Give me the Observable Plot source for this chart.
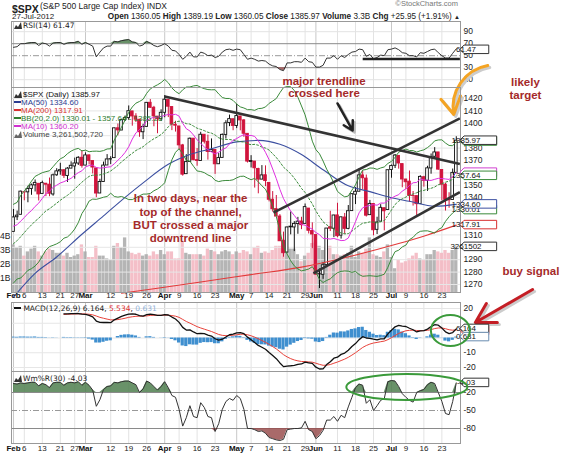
<!DOCTYPE html>
<html>
<head>
<meta charset="utf-8">
<script src="https://cdn.jsdelivr.net/npm/d3@7"></script>
<script src="https://cdn.jsdelivr.net/npm/@observablehq/plot@0.6"></script>
<style>
  html,body{margin:0;padding:0;background:#fff;}
  #chart{position:relative;width:570px;height:459px;overflow:hidden;background:#fff;font-family:"Liberation Sans",Arial,sans-serif;color:#222;}
  .t{position:absolute;white-space:nowrap;line-height:1;}
</style>
</head>
<body>
<div id="chart"></div>
<script>
// ---------------- DATA ----------------
const dates = [
 "02-01","02-02","02-03","02-06","02-07","02-08","02-09","02-10","02-13","02-14","02-15","02-16","02-17","02-21","02-22","02-23","02-24","02-27","02-28","02-29",
 "03-01","03-02","03-05","03-06","03-07","03-08","03-09","03-12","03-13","03-14","03-15","03-16","03-19","03-20","03-21","03-22","03-23","03-26","03-27","03-28","03-29","03-30",
 "04-02","04-03","04-04","04-05","04-09","04-10","04-11","04-12","04-13","04-16","04-17","04-18","04-19","04-20","04-23","04-24","04-25","04-26","04-27","04-30",
 "05-01","05-02","05-03","05-04","05-07","05-08","05-09","05-10","05-11","05-14","05-15","05-16","05-17","05-18","05-21","05-22","05-23","05-24","05-25","05-29","05-30","05-31",
 "06-01","06-04","06-05","06-06","06-07","06-08","06-11","06-12","06-13","06-14","06-15","06-18","06-19","06-20","06-21","06-22","06-25","06-26","06-27","06-28","06-29",
 "07-02","07-03","07-05","07-06","07-09","07-10","07-11","07-12","07-13","07-16","07-17","07-18","07-19","07-20","07-23","07-24","07-25","07-26","07-27"];
const open = [
 1312.45,1324.24,1326.21,1344.32,1344.33,1347.04,1349.97,1351.21,1343.06,1351.30,1350.52,1342.61,1358.06,1361.22,1362.11,1357.53,1363.46,1365.20,1367.56,1372.20,
 1365.90,1374.09,1369.59,1363.63,1343.39,1352.65,1365.97,1370.78,1371.92,1395.95,1394.17,1402.55,1404.17,1409.59,1405.52,1402.89,1392.78,1397.11,1416.55,1412.52,1405.39,1403.31,
 1408.47,1418.98,1413.09,1398.79,1397.45,1382.18,1358.98,1368.77,1387.61,1370.27,1369.57,1390.78,1385.08,1376.96,1378.53,1366.97,1372.11,1390.64,1400.19,1403.26,
 1397.86,1405.50,1402.32,1391.51,1368.79,1369.16,1363.20,1354.58,1358.11,1351.93,1338.36,1330.78,1324.82,1305.05,1295.73,1316.09,1316.02,1318.72,1320.81,1318.90,1331.25,1313.09,
 1309.87,1278.29,1277.82,1285.61,1316.15,1314.99,1325.72,1309.40,1324.02,1314.88,1329.19,1342.42,1344.83,1357.98,1355.43,1325.92,1334.90,1314.09,1320.71,1331.52,1330.12,
 1362.33,1365.75,1373.72,1367.09,1354.66,1352.96,1341.40,1341.29,1334.81,1356.50,1353.68,1363.58,1373.01,1376.51,1362.34,1350.52,1338.35,1338.17,1360.05];
const high = [
 1330.52,1329.19,1345.34,1344.36,1349.24,1351.00,1354.32,1351.21,1353.35,1351.30,1355.87,1359.02,1363.40,1367.76,1362.70,1364.24,1368.92,1371.94,1373.09,1378.04,
 1376.17,1374.53,1369.59,1363.63,1354.85,1368.72,1374.76,1373.04,1396.13,1399.42,1402.63,1405.88,1414.00,1409.59,1407.75,1402.89,1399.18,1416.58,1419.15,1413.65,1405.39,1410.89,
 1422.38,1419.00,1413.09,1401.60,1397.45,1383.01,1374.71,1388.13,1387.61,1379.66,1392.76,1390.78,1390.46,1387.40,1378.53,1375.57,1391.37,1402.09,1406.64,1403.26,
 1415.32,1405.50,1403.07,1391.51,1373.91,1369.16,1363.73,1365.88,1365.66,1351.93,1344.94,1341.78,1326.36,1312.24,1316.39,1328.49,1320.71,1324.14,1324.20,1334.93,1331.25,1319.74,
 1309.87,1282.55,1287.62,1315.13,1329.05,1325.81,1335.52,1324.31,1327.28,1333.68,1343.32,1348.22,1363.46,1361.57,1358.27,1337.82,1334.90,1324.24,1334.40,1331.52,1362.17,
 1366.35,1374.81,1373.85,1367.09,1354.87,1361.54,1345.00,1341.29,1357.70,1357.26,1365.36,1375.26,1380.39,1376.51,1362.34,1351.53,1343.98,1363.13,1389.19];
const low = [
 1312.45,1321.57,1326.21,1337.52,1335.92,1341.95,1344.63,1337.35,1343.06,1340.83,1340.80,1341.22,1357.24,1358.11,1355.53,1352.28,1363.46,1354.92,1365.97,1363.81,
 1365.90,1366.42,1359.13,1340.03,1343.39,1352.65,1365.97,1366.69,1371.92,1389.97,1394.17,1401.47,1402.43,1397.68,1400.64,1388.73,1386.87,1397.11,1411.95,1397.20,1391.56,1401.42,
 1404.46,1404.62,1394.09,1392.92,1378.24,1357.38,1358.98,1368.77,1369.85,1365.38,1369.57,1383.29,1370.30,1376.96,1358.79,1366.82,1372.11,1387.28,1397.31,1394.00,
 1395.73,1393.92,1388.71,1367.96,1363.94,1347.75,1343.13,1354.58,1348.89,1336.61,1328.41,1324.79,1304.86,1291.98,1295.73,1310.04,1296.53,1310.50,1314.23,1318.90,1310.76,1298.90,
 1277.25,1266.74,1274.16,1285.61,1312.68,1307.77,1307.73,1306.62,1310.51,1314.14,1329.19,1334.46,1344.83,1346.45,1324.41,1325.92,1309.27,1310.30,1320.71,1313.29,1330.12,
 1355.70,1363.53,1363.02,1348.03,1346.65,1336.27,1333.25,1325.41,1334.81,1348.51,1345.07,1358.96,1371.21,1362.19,1337.56,1329.24,1331.50,1338.17,1360.05];
const close = [
 1324.09,1325.54,1344.90,1344.33,1347.05,1349.96,1351.95,1342.64,1351.77,1350.50,1343.23,1358.04,1361.23,1362.21,1357.66,1363.46,1365.74,1367.59,1372.18,1365.68,
 1374.09,1369.63,1364.33,1343.36,1352.63,1365.91,1370.87,1371.09,1395.95,1394.28,1402.60,1404.17,1409.75,1405.52,1402.89,1392.78,1397.11,1416.51,1412.52,1405.54,1403.28,1408.47,
 1419.04,1413.38,1398.96,1398.08,1382.20,1358.59,1368.71,1387.57,1370.26,1369.57,1390.78,1385.14,1376.92,1378.53,1366.94,1371.97,1390.69,1399.98,1403.36,1397.91,
 1405.82,1402.31,1391.57,1369.10,1369.58,1363.72,1354.58,1357.99,1353.39,1338.35,1330.66,1324.80,1304.86,1295.22,1315.99,1316.63,1318.86,1320.68,1317.82,1332.42,1313.32,1310.33,
 1278.04,1278.18,1285.50,1315.13,1314.99,1325.66,1308.93,1324.18,1314.88,1329.10,1342.84,1344.78,1357.98,1355.69,1325.51,1335.02,1313.72,1319.99,1331.85,1329.04,1362.16,
 1365.51,1374.02,1367.58,1354.68,1352.46,1341.47,1341.45,1334.76,1356.78,1353.64,1363.67,1372.78,1376.51,1362.66,1350.52,1338.31,1337.89,1360.02,1385.97];
// volume in billions of shares
const volume = [
 3.4,3.2,3.3,2.6,2.9,3.1,3.3,2.9,2.6,2.9,3.1,3.0,2.8,2.8,2.6,2.8,2.5,2.6,2.7,3.4,
 2.9,2.5,2.5,3.3,2.6,2.6,2.4,2.3,3.3,3.5,3.2,3.9,2.9,2.8,2.7,2.8,2.6,2.7,2.6,2.9,2.7,3.0,
 2.7,2.9,2.9,2.4,2.4,3.6,2.8,2.7,2.7,2.7,2.7,2.6,3.1,3.0,2.9,2.7,2.9,3.0,2.9,2.7,
 2.9,2.8,3.0,2.9,2.7,3.2,3.3,2.8,2.9,2.8,3.0,3.3,3.3,3.8,2.9,3.1,3.1,2.7,2.2,2.6,2.8,3.5,
 3.6,3.3,3.0,3.2,3.3,2.7,2.7,2.6,2.7,2.8,3.3,2.5,2.9,2.8,3.1,3.9,2.7,2.6,2.5,2.9,3.4,
 2.5,1.7,2.3,2.1,2.2,2.4,2.6,2.8,2.4,2.3,2.7,2.7,3.0,2.9,2.8,3.0,2.8,3.0,3.26];
// closes of January 2012 (only used to start the 10/20-day windows)
const janClose = [1277.06,1277.30,1281.06,1277.81,1280.70,1292.08,1292.48,1295.50,1289.09,1293.67,1308.04,1314.50,1315.38,1316.00,1314.65,1326.06,1318.43,1316.33,1313.01,1312.41];
const rsi = [
 64,65,70,70,71,72,72,67,71,70,66,71,72,72,69,71,72,72,74,69,
 72,69,66,48,56,63,66,66,74,73,75,76,77,73,72,66,68,74,71,67,65,67,
 70,66,59,58,52,44,49,56,48,48,56,54,50,51,47,49,56,60,61,59,
 61,60,52,44,46,44,41,42,41,36,33,32,27,25,38,38,40,40,39,46,40,39,
 31,31,34,46,46,50,44,50,47,52,56,57,61,60,49,52,45,47,51,50,60,
 61,63,60,55,54,50,50,48,55,54,57,60,61,55,50,46,46,54,61.47];
const macd = [
 null,null,null,null,null,null,null,null,null,null,null,null,null,null,16.4,16.4,16.5,16.5,16.6,16.2,
 16.0,15.4,14.3,11.5,10.6,10.5,10.6,10.4,12.3,13.5,14.7,15.5,16.2,16.3,16.1,15.2,14.8,15.8,16.2,15.8,15.4,15.3,
 15.8,15.6,14.2,12.9,10.6,7.2,5.4,5.5,4.1,2.9,3.2,2.9,2.0,1.3,-0.5,-1.5,-0.8,0.7,2.2,2.7,
 3.5,3.6,2.9,0.6,-1.2,-3.0,-5.0,-6.3,-7.6,-9.8,-11.9,-14.0,-16.9,-19.4,-19.0,-18.8,-18.5,-17.9,-17.6,-16.4,-16.8,-17.2,
 -19.8,-21.0,-20.9,-18.0,-16.1,-13.7,-13.0,-11.1,-10.2,-8.3,-5.8,-3.8,-1.1,0.9,0.0,-0.2,-0.8,-1.3,-0.6,-0.5,2.8,
 5.2,7.6,8.6,8.1,7.8,6.6,5.6,4.1,4.8,5.0,6.0,7.7,9.0,8.7,6.7,4.2,3.0,3.7,6.164];
const signal = [
 null,null,null,null,null,null,null,null,null,null,null,null,null,null,16.0,16.1,16.2,16.3,16.4,16.4,
 16.3,16.1,15.7,14.9,14.0,13.4,12.8,12.3,12.3,12.5,12.9,13.4,14.0,14.4,14.7,14.8,14.8,15.0,15.3,15.4,15.4,15.4,
 15.5,15.5,15.2,14.8,14.0,12.6,11.2,10.1,8.9,7.7,6.8,6.0,5.2,4.4,3.4,2.4,1.8,1.6,1.7,1.9,
 2.2,2.5,2.6,2.2,1.5,0.6,-0.5,-1.7,-2.9,-4.3,-5.8,-7.4,-9.3,-11.3,-12.8,-14.0,-14.9,-15.5,-15.9,-16.0,-16.2,-16.4,
 -17.1,-17.9,-18.5,-18.4,-18.0,-17.1,-16.3,-15.3,-14.3,-13.1,-11.6,-10.0,-8.2,-6.4,-5.1,-4.1,-3.4,-3.0,-2.5,-2.1,-1.1,
 0.2,1.7,3.1,4.1,4.9,5.2,5.3,5.1,5.0,5.0,5.2,5.7,6.4,6.8,6.8,6.3,5.6,5.3,5.534];
const hist = [
 0.6,0.5,0.7,0.7,0.6,0.6,0.7,0.4,0.4,0.3,0.1,0.2,0.1,0.0,0.4,0.3,0.3,0.2,0.2,-0.2,
 -0.3,-0.7,-1.4,-3.4,-3.4,-2.9,-2.2,-1.9,0.0,1.0,1.8,2.1,2.2,1.9,1.4,0.4,0.0,0.8,0.9,0.4,0.0,-0.1,
 0.3,0.1,-1.0,-1.9,-3.4,-5.4,-5.8,-4.6,-4.8,-4.8,-3.6,-3.1,-3.2,-3.1,-3.9,-3.9,-2.6,-0.9,0.5,0.8,
 1.3,1.1,0.3,-1.6,-2.7,-3.6,-4.5,-4.6,-4.7,-5.5,-6.1,-6.6,-7.6,-8.1,-6.2,-4.8,-3.6,-2.4,-1.7,-0.4,-0.6,-0.8,
 -2.7,-3.1,-2.4,0.4,1.9,3.4,3.3,4.2,4.1,4.8,5.8,6.2,7.1,7.3,5.1,3.9,2.6,1.7,1.9,1.6,3.9,
 5.0,5.9,5.5,4.0,2.9,1.4,0.3,-1.0,-0.2,0.0,0.8,2.0,2.6,1.9,-0.1,-2.1,-2.6,-1.6,0.631];
const wr = [
 -5,-6,-4,-5,-4,-3,-3,-9,-5,-7,-12,-4,-3,-3,-8,-4,-3,-4,-2,-8,
 -3,-8,-16,-43,-32,-15,-10,-9,-3,-4,-2,-1,-1,-4,-7,-20,-14,-1,-4,-10,-16,-10,
 -2,-12,-25,-28,-48,-76,-62,-42,-60,-62,-37,-45,-60,-62,-85,-72,-48,-35,-30,-33,
 -25,-30,-48,-80,-80,-82,-85,-84,-88,-95,-97,-99,-100,-98,-82,-81,-80,-80,-79,-68,-82,-85,
 -97,-92,-83,-66,-66,-60,-68,-58,-62,-44,-28,-12,-6,-8,-38,-32,-50,-42,-33,-30,-2,
 0,-1,-10,-22,-28,-33,-36,-20,-17,-15,-7,-3,-5,-20,-35,-55,-57,-35,-4.03];
// 50- and 200-day moving averages, sampled
const ma50Idx = [0,6,12,19,25,31,36,43,49,55,62,68,74,80,86,93,99,105,110,117,123];
const ma50Val = [1259.9,1279.0,1292.2,1310.5,1325.3,1340.3,1352.0,1366.9,1374.8,1379.5,1385.0,1386.2,1383.1,1374.8,1362.5,1349.6,1344.9,1340.0,1337.1,1333.1,1334.6];
const ma200Idx = [30,40,52,66,80,94,107,115,123];
const ma200Val = [1263,1267,1272,1278,1284,1293,1303,1310,1317.91];
// x axis ticks
const tickDates = ["02-01","02-06","02-13","02-21","02-27","03-01","03-12","03-19","03-26","04-02","04-09","04-16","04-23","05-01","05-07","05-14","05-21","05-29","06-01","06-11","06-18","06-25","07-02","07-09","07-16","07-23"];
const tickLabels = ["Feb","6","13","21","27","Mar","12","19","26","Apr","9","16","23","May","7","14","21","29","Jun","11","18","25","Jul","9","16","23"];
const priceGrid = [1270,1280,1290,1300,1310,1320,1330,1340,1350,1360,1370,1380,1390,1400,1410,1420];
const priceLabels = [1270,1280,1290,1310,1340,1350,1370,1380,1400,1410,1420]; // others hidden under value tags
const volTicks = [1,2,3,4];
const rsiTicks = [10,30,50,70,90];
const macdGrid = [-20,-10,0,10,20];
const macdLabels = [-20,-10,20];
const wrTicks = [-20,-50,-80];
// hand-drawn trendlines (trading-day index, price)
const trendX1 = [42, 72.2, 83.3], trendY1 = [1421.6, 1328.0, 1278.9];
const trendX2 = [124, 124, 124],  trendY2 = [1367.1, 1404.0, 1344.5];
// RSI support mark
const rsiMarkX1 = [97], rsiMarkX2 = [124], rsiMarkY = [44.5];
// annotation texts (main panel coordinates)
const annoText = ["major trendline","crossed here","likely","target","buy signal","In two days, near the","top of the channel,","BUT crossed a major","downtrend line"];
const annoX = [86.25,86.25,142.2,142.2,143.75,49.2,49.2,49.2,49.2];
const annoY = [1434.1,1424.0,1432.9,1422.4,1280.9,1339.4,1328.1,1317.6,1307.1];
// value tags (bottom to top); empty text = box mostly hidden under the next one
const mainTagVal = [1317.91,1330.01,1334.60,1360.20,1357.64,1385.28,1385.97];
const mainTagText = ["1317.91","1330.01","1334.60","","1357.64","","1385.97"];
const mainTagColor = ["#d83030","#3a8a3a","#3b4fa0","#d040d0","#3a8a3a","#3a8a3a","#333"];

// ---------------- BUILD ----------------
const W = 570, ML = 11, MR = 110;
const xDomain = [-0.56, 124.17];
const root = document.getElementById("chart");
const FONT = '"Liberation Sans", Arial, sans-serif';
const baseStyle = {fontFamily: FONT, fontSize: "8.5px", background: "transparent", overflow: "visible", color: "#222"};

const rows = dates.map((d, i) => {
  const prev = i ? close[i - 1] : janClose[janClose.length - 1];
  const up = close[i] >= prev;
  const col = up ? "#111111" : "#d0143c";
  return {i, date: d, open: open[i], high: high[i], low: low[i], close: close[i], vol: volume[i],
    col, body: close[i] >= open[i] ? "#ffffff" : col, vcol: up ? "#a8a8a8" : "#f2b4be",
    rsi: rsi[i], macd: macd[i], signal: signal[i], hist: hist[i], wr: wr[i]};
});
const closeSeries = janClose.map(c => ({i: NaN, close: c})).concat(rows.map(r => ({i: r.i, close: r.close})));
const ticks = tickDates.map((d, k) => ({i: dates.indexOf(d), label: tickLabels[k], month: isNaN(+tickLabels[k])}));
const monthTicks = ticks.filter(t => t.month), dayTicks = ticks.filter(t => !t.month);
const ma50 = ma50Idx.map((x, k) => ({i: x, v: ma50Val[k]}));
const ma200 = ma200Idx.map((x, k) => ({i: x, v: ma200Val[k]}));
const trends = trendX1.map((x, k) => ({x1: x, y1: trendY1[k], x2: trendX2[k], y2: trendY2[k]}));
const annos = annoText.map((t, k) => ({t, x: annoX[k], y: annoY[k]}));

const sdPop = V => { const m = d3.mean(V); return Math.sqrt(d3.mean(V, v => (v - m) * (v - m))); };
const bbHi = V => d3.mean(V) + 2 * sdPop(V);
const bbLo = V => d3.mean(V) - 2 * sdPop(V);

function gridX() {
  return [Plot.ruleX(dayTicks, {x: "i", stroke: "#e3e3e3"}), Plot.ruleX(monthTicks, {x: "i", stroke: "#c8c8c8"})];
}
function place(el, top) { el.style.position = "absolute"; el.style.left = "0px"; el.style.top = top + "px"; root.appendChild(el); return el; }
function scaleFn(plot, name) {
  const s = plot.scale(name);
  if (s && typeof s.apply === "function") return v => s.apply(v);
  return v => s.range[0] + (v - s.domain[0]) / (s.domain[1] - s.domain[0]) * (s.range[1] - s.range[0]);
}
function tag(svg, ypx, text, color, chars) {
  const n = chars || text.length;
  const x0 = 460, h = 8.5, w = n * 3.95 + 5;
  const g = d3.select(svg).append("g");
  g.append("path").attr("d", `M${x0},${ypx}L${x0 + 4},${ypx - h / 2}H${x0 + 4 + w}V${ypx + h / 2}H${x0 + 4}Z`)
    .attr("fill", "white").attr("stroke", color).attr("stroke-width", 1);
  if (text) g.append("text").attr("x", x0 + 6).attr("y", ypx).attr("dy", "0.36em").attr("font-size", 8)
    .attr("font-family", FONT).attr("fill", "#111").text(text);
}
function ellipse(svg, cx, cy, rx, ry) {
  d3.select(svg).append("ellipse").attr("cx", cx).attr("cy", cy).attr("rx", rx).attr("ry", ry)
    .attr("fill", "none").attr("stroke", "#3a9a3a").attr("stroke-width", 2);
}
const fmt = d => String(d);

// RSI panel
const rsiPlot = Plot.plot({
  width: W, height: 66, marginLeft: ML, marginRight: MR, marginTop: 0, marginBottom: 0,
  x: {domain: xDomain, axis: null},
  y: {domain: [-3, 107], axis: "right", ticks: rsiTicks, tickSize: 0, tickPadding: 3, tickFormat: fmt, label: null},
  style: {...baseStyle, background: "white"},
  marks: [
    ...gridX(),
    Plot.ruleY([10, 90], {stroke: "#e3e3e3"}),
    Plot.ruleY([30, 70], {stroke: "#8a8a8a"}),
    Plot.ruleY([50], {stroke: "#999", strokeDasharray: "6,2,1,2"}),
    Plot.areaY(rows, {x: "i", y1: 70, y2: d => Math.max(d.rsi, 70), fill: "#4f7f4f", fillOpacity: 0.85}),
    Plot.areaY(rows, {x: "i", y1: 30, y2: d => Math.min(d.rsi, 30), fill: "#9a5050", fillOpacity: 0.85}),
    Plot.line(rows, {x: "i", y: "rsi", stroke: "#333", strokeWidth: 1}),
    Plot.link(rsiMarkX1.map((x, k) => ({x1: x, x2: rsiMarkX2[k], y: rsiMarkY[k]})), {x1: "x1", x2: "x2", y1: "y", y2: "y", stroke: "#222", strokeWidth: 2.5}),
    Plot.frame({stroke: "#999"})
  ]
});
place(rsiPlot, 21);
tag(rsiPlot, scaleFn(rsiPlot, "y")(rsi[123]) + 1, "61.47", "#333");

// Volume panel (underneath price)
const volPlot = Plot.plot({
  width: W, height: 215, marginLeft: ML, marginRight: MR, marginTop: 0, marginBottom: 10,
  x: {domain: xDomain, axis: null},
  y: {domain: [0, 205 / 14], axis: "left", ticks: volTicks, tickSize: 0, tickPadding: 1, tickFormat: d => d + "B", label: null},
  color: {type: "identity"},
  style: {...baseStyle, background: "white"},
  marks: [
    ...gridX(),
    Plot.rect(rows, {x1: d => d.i - 0.46, x2: d => d.i + 0.46, y1: 0, y2: "vol", fill: "vcol", fillOpacity: 0.85})
  ]
});
place(volPlot, 87);

// Price panel
const mainPlot = Plot.plot({
  width: W, height: 215, marginLeft: ML, marginRight: MR, marginTop: 0, marginBottom: 10,
  x: {domain: xDomain, axis: null},
  y: {domain: [1263.55, 1428.87], axis: "right", ticks: priceLabels, tickSize: 0, tickPadding: 3, tickFormat: fmt, label: null},
  color: {type: "identity"},
  style: baseStyle,
  marks: [
    Plot.ruleY(priceGrid, {stroke: "#e6e6e6"}),
    Plot.ruleX(rows, {x: "i", y1: "low", y2: "high", stroke: "col", strokeWidth: 1}),
    Plot.rect(rows, {x1: d => d.i - 0.37, x2: d => d.i + 0.37, y1: "open", y2: "close", fill: "body", stroke: "col", strokeWidth: 0.9}),
    Plot.line(ma200, {x: "i", y: "v", stroke: "#e23a3a", strokeWidth: 1.1, curve: "monotone-x"}),
    Plot.line(ma50, {x: "i", y: "v", stroke: "#3b4fa0", strokeWidth: 1.1, curve: "monotone-x"}),
    Plot.line(closeSeries, Plot.windowY({k: 20, anchor: "end", reduce: bbHi}, {x: "i", y: "close", stroke: "#3a8a3a", strokeWidth: 1})),
    Plot.line(closeSeries, Plot.windowY({k: 20, anchor: "end", reduce: bbLo}, {x: "i", y: "close", stroke: "#3a8a3a", strokeWidth: 1})),
    Plot.line(closeSeries, Plot.windowY({k: 20, anchor: "end", reduce: "mean"}, {x: "i", y: "close", stroke: "#3a8a3a", strokeWidth: 1, strokeDasharray: "2,2"})),
    Plot.line(closeSeries, Plot.windowY({k: 10, anchor: "end", reduce: "mean"}, {x: "i", y: "close", stroke: "#e030e0", strokeWidth: 1})),
    Plot.link(trends, {x1: "x1", y1: "y1", x2: "x2", y2: "y2", stroke: "#333", strokeWidth: 2.6}),
    Plot.text(annos, {x: "x", y: "y", text: "t", fill: "#a52a2a", fontWeight: "bold", fontSize: 11.5, fontFamily: FONT}),
    Plot.arrow([{x1: 90, y1: 1416, x2: 94.2, y2: 1394.2}], {x1: "x1", y1: "y1", x2: "x2", y2: "y2", stroke: "#bbb", strokeWidth: 2.5, dx: 2, dy: 2, headLength: 9}),
    Plot.arrow([{x1: 90, y1: 1416, x2: 94.2, y2: 1394.2}], {x1: "x1", y1: "y1", x2: "x2", y2: "y2", stroke: "#222", strokeWidth: 2.5, headLength: 9}),
    Plot.arrow([{x1: 131.75, y1: 1446.6, x2: 122.3, y2: 1407.1}], {x1: "x1", y1: "y1", x2: "x2", y2: "y2", bend: -45, stroke: "#ccc", strokeWidth: 3, dx: 2, dy: 2, headLength: 11}),
    Plot.arrow([{x1: 131.75, y1: 1446.6, x2: 122.3, y2: 1407.1}], {x1: "x1", y1: "y1", x2: "x2", y2: "y2", bend: -45, stroke: "#f4a424", strokeWidth: 3, headLength: 11}),
    Plot.text(dayTicks, {x: "i", text: "label", frameAnchor: "bottom", dy: 5.5, fontSize: 8, fill: "#222"}),
    Plot.text(monthTicks, {x: "i", text: "label", frameAnchor: "bottom", dy: 5.5, fontSize: 8, fontWeight: "bold", fill: "#111"}),
    Plot.frame({stroke: "#999"})
  ]
});
place(mainPlot, 87);
{
  const yv = scaleFn(volPlot, "y"), yp = scaleFn(mainPlot, "y");
  tag(mainPlot, yv(volume[123]), "3261502", "#333");
  mainTagVal.forEach((v, k) => tag(mainPlot, yp(v), mainTagText[k], mainTagColor[k], 7));
}

// MACD panel
const macdPlot = Plot.plot({
  width: W, height: 69, marginLeft: ML, marginRight: MR, marginTop: 0, marginBottom: 0,
  x: {domain: xDomain, axis: null},
  y: {domain: [-22.71, 24.07], axis: "right", ticks: macdLabels, tickSize: 0, tickPadding: 3, tickFormat: fmt, label: null},
  style: {...baseStyle, background: "white"},
  marks: [
    ...gridX(),
    Plot.ruleY(macdGrid, {stroke: "#e6e6e6"}),
    Plot.rect(rows, {x1: d => d.i - 0.45, x2: d => d.i + 0.45, y1: 0, y2: "hist", fill: "#3f8fcf"}),
    Plot.line(rows, {x: "i", y: "signal", stroke: "#e8423a", strokeWidth: 1}),
    Plot.line(rows, {x: "i", y: "macd", stroke: "#111", strokeWidth: 1.3}),
    Plot.frame({stroke: "#999"}),
    Plot.arrow([{x1: 144.2, y1: 32.9, x2: 128.3, y2: 10.5}], {x1: "x1", y1: "y1", x2: "x2", y2: "y2", stroke: "#ccc", strokeWidth: 3, dx: 2, dy: 2, headLength: 11}),
    Plot.arrow([{x1: 144.2, y1: 32.9, x2: 128.3, y2: 10.5}], {x1: "x1", y1: "y1", x2: "x2", y2: "y2", stroke: "#c41e25", strokeWidth: 3, headLength: 11})
  ]
});
place(macdPlot, 302);
{
  const x = scaleFn(macdPlot, "x"), y = scaleFn(macdPlot, "y");
  tag(macdPlot, y(signal[123]) + 1, "", "#d83030", 5);
  tag(macdPlot, y(macd[123]), "6.164", "#333");
  tag(macdPlot, y(hist[123]), "0.631", "#6a8cb0");
  ellipse(macdPlot, x(121.5), y(4.7), 19.5, 15.5);
}

// Williams %R panel
const wrPlot = Plot.plot({
  width: W, height: 86, marginLeft: ML, marginRight: MR, marginTop: 0, marginBottom: 14,
  x: {domain: xDomain, axis: null},
  y: {domain: [-105, 15], axis: "right", ticks: wrTicks, tickSize: 0, tickPadding: 3, tickFormat: fmt, label: null},
  style: {...baseStyle, background: "white"},
  marks: [
    ...gridX(),
    Plot.ruleY([-20, -80], {stroke: "#8a8a8a"}),
    Plot.ruleY([-50], {stroke: "#999", strokeDasharray: "6,2,1,2"}),
    Plot.areaY(rows, {x: "i", y1: -20, y2: d => Math.max(d.wr, -20), fill: "#4f7f4f", fillOpacity: 0.85}),
    Plot.areaY(rows, {x: "i", y1: -80, y2: d => Math.min(d.wr, -80), fill: "#9a5050", fillOpacity: 0.85}),
    Plot.line(rows, {x: "i", y: "wr", stroke: "#333", strokeWidth: 1}),
    Plot.text(dayTicks, {x: "i", text: "label", frameAnchor: "bottom", dy: 7, fontSize: 8, fill: "#222"}),
    Plot.text(monthTicks, {x: "i", text: "label", frameAnchor: "bottom", dy: 7, fontSize: 8, fontWeight: "bold", fill: "#111"}),
    Plot.frame({stroke: "#999"})
  ]
});
place(wrPlot, 371);
{
  const x = scaleFn(wrPlot, "x"), y = scaleFn(wrPlot, "y");
  tag(wrPlot, y(wr[123]), "-4.03", "#333");
  ellipse(wrPlot, x(109.4), y(-11.7), 60.5, 13);
}

// ---------------- TEXT OVERLAYS ----------------
function txt(html, style) { const d = document.createElement("div"); d.className = "t"; d.setAttribute("style", style); d.innerHTML = html; root.appendChild(d); return d; }
const mtn = c => `<svg width="8" height="7" style="vertical-align:-1px;margin-right:1px"><path d="M0,7L2,3L4,5L7,0L8,7Z" fill="${c}"/></svg>`;
const dash = c => `<svg width="7" height="6" style="vertical-align:0px"><rect x="0" y="2" width="7" height="2" fill="${c}"/></svg>`;
txt(`<b style="font-size:10.5px">$SPX</b>`, "left:12px;top:0px;height:11px;");
txt(`(S&amp;P 500 Large Cap Index) INDX`, "left:40px;top:1.5px;font-size:8.5px;");
txt("27-Jul-2012", "left:12px;top:12.5px;font-size:8px;");
txt(`<b>Open</b> 1360.05 <b>High</b> 1389.19 <b>Low</b> 1360.05 <b>Close</b> 1385.97 <b>Volume</b> 3.3B <b>Chg</b> +25.95 (+1.91%) <span style="font-size:6px">▲</span>`, "right:110px;top:12.5px;font-size:8.2px;");
txt("©StockCharts.com", "right:112px;top:0px;font-size:7.5px;color:#777;");
txt(`${mtn("#333")}RSI(14) 61.47`, "left:14px;top:22px;font-size:7.5px;font-family:'DejaVu Sans',sans-serif;color:#222;");
txt(`<div>${mtn("#333")}$SPX (Daily) 1385.97</div>
<div style="color:#2b3d91">${dash("#2b3d91")}MA(50) 1334.60</div>
<div style="color:#d83030">${dash("#d83030")}MA(200) 1317.91</div>
<div style="color:#2e7d2e">${dash("#2e7d2e")}BB(20,2.0) 1330.01 - 1357.64 - 1385.28</div>
<div style="color:#d030d0">${dash("#d030d0")}MA(10) 1360.20</div>
<div style="color:#444">${mtn("#666")}Volume 3,261,502,720</div>`, "left:14px;top:91px;font-size:8px;line-height:7.9px;color:#111;");
txt(`${dash("#111")} MACD(12,26,9) 6.164, <span style="color:#e03030">5.534</span>, <span style="color:#8fb0d8">0.631</span>`, "left:14px;top:305px;font-size:7.5px;font-family:'DejaVu Sans',sans-serif;color:#222;");
txt(`${mtn("#333")}Wm%R(30) -4.03`, "left:14px;top:375px;font-size:7.5px;font-family:'DejaVu Sans',sans-serif;color:#222;");
</script>
</body>
</html>
